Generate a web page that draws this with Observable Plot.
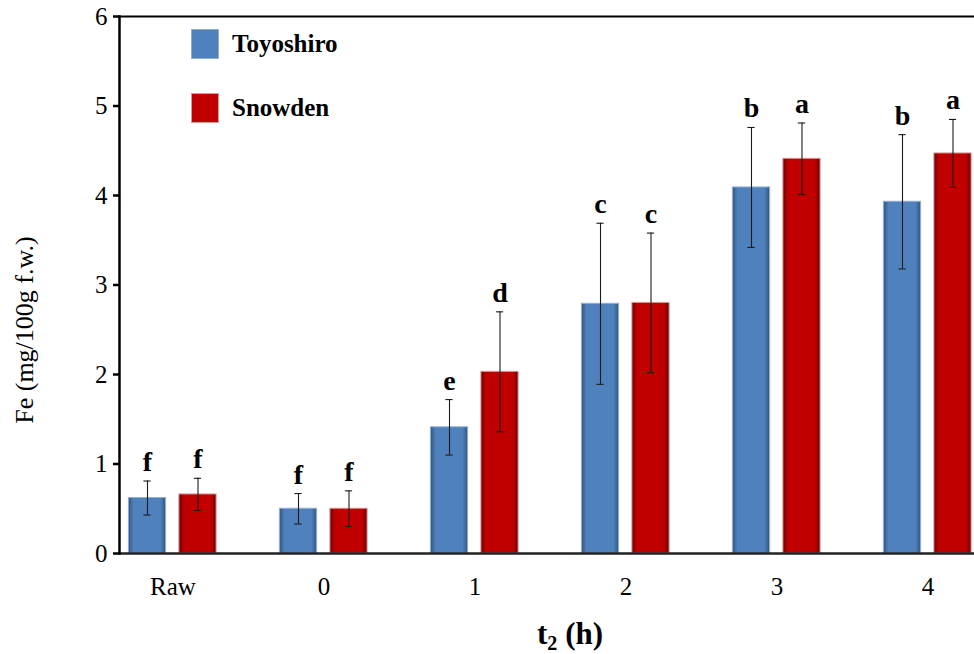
<!DOCTYPE html>
<html><head><meta charset="utf-8">
<script src="https://cdn.jsdelivr.net/npm/d3@7"></script>
<script src="https://cdn.jsdelivr.net/npm/@observablehq/plot@0.6"></script>
<style>
body{margin:0;background:#fff;}
#wrap{position:relative;width:974px;height:654px;overflow:hidden;font-family:"Liberation Serif","Times New Roman",serif;color:#000;}
#wrap svg{position:absolute;left:0;top:0;overflow:visible;}
.leg{position:absolute;left:191px;display:flex;align-items:center;font-weight:bold;font-size:25px;height:30px;}
.sw{width:28px;height:30px;margin-right:13px;box-sizing:border-box;}
#ytitle{position:absolute;left:25px;top:330px;transform:translate(-50%,-50%) rotate(-90deg);font-size:26px;white-space:nowrap;}
#xtitle{position:absolute;left:570px;top:618px;transform:translateX(-50%);font-size:31px;font-weight:bold;white-space:nowrap;line-height:1;}
#xtitle sub{font-size:0.65em;vertical-align:-0.3em;}
</style></head><body><div id="wrap"></div>
<script>
const categories = ["Raw", "0", "1", "2", "3", "4"];
const seriesNames = ["Toyoshiro", "Snowden"];
const toyoshiro = [0.62, 0.50, 1.41, 2.79, 4.09, 3.93];
const toyoshiroSD = [0.19, 0.17, 0.31, 0.90, 0.67, 0.75];
const toyoshiroLetters = ["f", "f", "e", "c", "b", "b"];
const snowden = [0.66, 0.50, 2.03, 2.80, 4.41, 4.47];
const snowdenSD = [0.18, 0.20, 0.67, 0.78, 0.40, 0.38];
const snowdenLetters = ["f", "f", "d", "c", "a", "a"];
const yTicks = [0, 1, 2, 3, 4, 5, 6];

const colors = {Toyoshiro: "#4F81BD", Snowden: "#C00000"};
const seriesData = {
  Toyoshiro: categories.map((c, i) => ({cat: c, v: toyoshiro[i], sd: toyoshiroSD[i], l: toyoshiroLetters[i]})),
  Snowden: categories.map((c, i) => ({cat: c, v: snowden[i], sd: snowdenSD[i], l: snowdenLetters[i]}))
};

const xRange = [94.6, 1005.4];
const bw = (xRange[1] - xRange[0]) / categories.length;
const barW = 38;
const offsets = {Toyoshiro: -25.5, Snowden: 25};
const gradIds = {Toyoshiro: "gBlue", Snowden: "gRed"};
const strokes = {Toyoshiro: "#93AED0", Snowden: "#D99A9A"};

const marks = [];
for (const s of seriesNames) {
  const d = seriesData[s];
  const dx = offsets[s];
  marks.push(Plot.barY(d, {x: "cat", y: "v", fill: `url(#${gradIds[s]})`, stroke: strokes[s], strokeWidth: 1,
    insetLeft: (bw - barW) / 2, insetRight: (bw - barW) / 2, dx}));
}
for (const s of seriesNames) {
  const d = seriesData[s];
  const dx = offsets[s];
  marks.push(Plot.ruleX(d, {x: "cat", y1: r => r.v - r.sd, y2: r => r.v + r.sd, dx, stroke: "#1a1a1a", strokeWidth: 1.1}));
  marks.push(Plot.tickY(d, {x: "cat", y: r => r.v + r.sd, dx, stroke: "#1a1a1a", strokeWidth: 1.1, insetLeft: bw / 2 - 4, insetRight: bw / 2 - 4}));
  marks.push(Plot.tickY(d, {x: "cat", y: r => r.v - r.sd, dx, stroke: "#1a1a1a", strokeWidth: 1.1, insetLeft: bw / 2 - 4, insetRight: bw / 2 - 4}));
  marks.push(Plot.text(d, {x: "cat", y: r => r.v + r.sd, text: "l", dx, dy: -10, lineAnchor: "bottom", fontSize: 28, fontWeight: "bold", fill: "#000"}));
}
marks.push(Plot.ruleY([6], {stroke: "#000", strokeWidth: 2}));
marks.push(Plot.ruleY([0], {stroke: "#222", strokeWidth: 2.5}));
marks.push(Plot.frame({anchor: "left", stroke: "#000", strokeWidth: 2.5}));
marks.push(Plot.axisY({ticks: yTicks, tickSize: 6, tickPadding: 6, fontSize: 25, label: null, stroke: "#000", strokeWidth: 2.5, tickFormat: d3.format("d")}));
marks.push(Plot.axisX({tickSize: 0, tickPadding: 24, fontSize: 25, label: null}));

const chart = Plot.plot({
  width: 974,
  height: 654,
  marginTop: 16,
  marginBottom: 101,
  marginLeft: 119,
  marginRight: 0,
  style: {fontFamily: "'Liberation Serif', 'Times New Roman', serif", fontSize: "25px", color: "#000", background: "transparent"},
  x: {domain: categories, range: xRange, padding: 0},
  y: {domain: [0, 6], range: [553, 16]},
  marks
});

const ns = "http://www.w3.org/2000/svg";
const defs = document.createElementNS(ns, "defs");
function grad(id, edge, mid) {
  const g = document.createElementNS(ns, "linearGradient");
  g.setAttribute("id", id);
  g.setAttribute("x1", "0"); g.setAttribute("x2", "1"); g.setAttribute("y1", "0"); g.setAttribute("y2", "0");
  [[0, edge], [0.14, mid], [0.86, mid], [1, edge]].forEach(([o, c]) => {
    const st = document.createElementNS(ns, "stop");
    st.setAttribute("offset", o); st.setAttribute("stop-color", c);
    g.appendChild(st);
  });
  defs.appendChild(g);
}
grad("gBlue", "#34557E", "#4F81BD");
grad("gRed", "#6E0000", "#C00000");
chart.insertBefore(defs, chart.firstChild);

const wrap = document.getElementById("wrap");
wrap.appendChild(chart);

seriesNames.forEach((s, i) => {
  const el = document.createElement("div");
  el.className = "leg";
  el.style.top = (29 + i * 64) + "px";
  el.innerHTML = `<div class="sw" style="background:${colors[s]};border:1px solid ${strokes[s]}"></div><span>${s}</span>`;
  wrap.appendChild(el);
});
const yt = document.createElement("div");
yt.id = "ytitle"; yt.textContent = "Fe (mg/100g f.w.)";
wrap.appendChild(yt);
const xt = document.createElement("div");
xt.id = "xtitle"; xt.innerHTML = "t<sub>2</sub> (h)";
wrap.appendChild(xt);
</script></body></html>
